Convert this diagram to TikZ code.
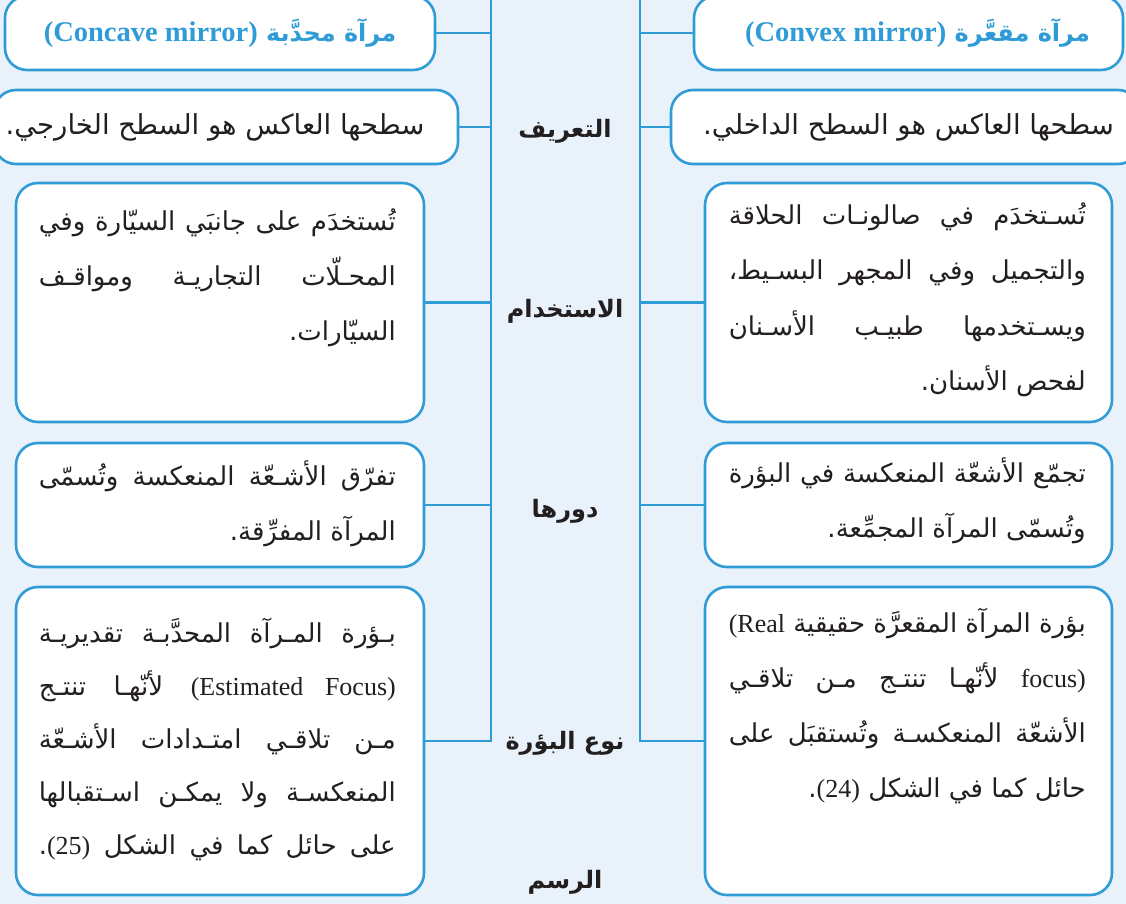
\documentclass[tikz,border=0pt]{standalone}
\usepackage{fontspec}
\usepackage{graphicx}
\setmainfont{Liberation Serif}
\newfontfamily\arabicfont[Script=Arabic]{DejaVu Sans}
\TeXXeTstate=1
\definecolor{bg}{HTML}{E9F2FA}
\definecolor{lineblue}{HTML}{2F9BD7}
\definecolor{txt}{HTML}{231F20}
\newlength\lw \setlength\lw{357pt}
\newsavebox\lbox
\newcommand\jl[1]{\sbox\lbox{\beginR #1\endR}%
  \ifdim\wd\lbox>\lw \hbox to \lw{\resizebox{\lw}{\height}{\usebox\lbox}}%
  \else \hbox to \lw{\beginR #1\endR}\fi}
\newcommand\rl[1]{\sbox\lbox{\beginR #1\endR}%
  \ifdim\wd\lbox>\lw \hbox to \lw{\resizebox{\lw}{\height}{\usebox\lbox}}%
  \else \hbox to \lw{\hfil\usebox\lbox}\fi}
\newcommand\para[2]{\vtop{\baselineskip=#1pt\lineskiplimit=-100pt\lineskip=0pt #2}}
\newcommand\lat[1]{\beginL{\rmfamily #1}\endL}
\tikzset{
  box/.style={draw=lineblue, line width=2.6pt, fill=white, rounded corners=22pt, inner sep=0pt},
  conn/.style={draw=lineblue, line width=2.6pt},
  body/.style={text=txt, font=\arabicfont\fontsize{26}{30}\selectfont, inner sep=0pt},
  deftext/.style={text=txt, font=\arabicfont\fontsize{27.5}{32}\selectfont},
  lab/.style={text=txt, font=\arabicfont\bfseries\fontsize{24}{28}\selectfont, inner sep=0pt},
  ttl/.style={text=lineblue, font=\arabicfont\bfseries\fontsize{24}{28}\selectfont}
}
\begin{document}
\begin{tikzpicture}[x=1pt,y=-1pt]
\useasboundingbox (0,0) rectangle (1126,904);
\fill[bg] (0,0) rectangle (1126,904);
\coordinate (lt) at (491,-5);
\coordinate (rt) at (640,-5);
% boxes
\node[box, ttl, minimum width=430pt, minimum height=74pt] (ltitle) at (220,33)
  {\beginR مرآة محدَّبة \lat{\fontsize{28.5}{32}\selectfont(Concave mirror)}\endR};
\node[box, ttl, minimum width=429pt, minimum height=74pt] (rtitle) at (908.5,33)
  {\beginR مرآة مقعَّرة \lat{\fontsize{28.5}{32}\selectfont(Convex mirror)}\endR\hspace*{-18pt}};
\node[box, deftext, minimum width=464pt, minimum height=74pt] (ldef) at (226,127)
  {\beginR سطحها العاكس هو السطح الخارجي.\endR\hspace*{22pt}};
\node[box, deftext, minimum width=469pt, minimum height=74pt] (rdef) at (905.5,127)
  {\beginR سطحها العاكس هو السطح الداخلي.\endR\hspace*{-6pt}};
\node[box, minimum width=408pt, minimum height=239pt] (luse) at (220,302.5) {};
\node[box, minimum width=407pt, minimum height=239pt] (ruse) at (908.5,302.5) {};
\node[box, minimum width=408pt, minimum height=124pt] (lrole) at (220,505) {};
\node[box, minimum width=407pt, minimum height=124pt] (rrole) at (908.5,505) {};
\node[box, minimum width=408pt, minimum height=308pt] (lfocus) at (220,741) {};
\node[box, minimum width=407pt, minimum height=308pt] (rfocus) at (908.5,741) {};
% connectors
\draw[conn] (lt) -- (lt |- lfocus.east) -- (lfocus.east);
\draw[conn] (rt) -- (rt |- rfocus.west) -- (rfocus.west);
\draw[conn] (ltitle.east) -- (ltitle.east -| lt);
\draw[conn] (ldef.east) -- (ldef.east -| lt);
\draw[conn] (luse.east) -- (luse.east -| lt);
\draw[conn] (lrole.east) -- (lrole.east -| lt);
\draw[conn] (rtitle.west) -- (rtitle.west -| rt);
\draw[conn] (rdef.west) -- (rdef.west -| rt);
\draw[conn] (ruse.west) -- (ruse.west -| rt);
\draw[conn] (rrole.west) -- (rrole.west -| rt);
% box texts
\node[body, anchor=base east] (lusetext) at (396,230) {\para{55}{%
  \jl{تُستخدَم على جانبَي السيّارة وفي}
  \jl{المحـلّات التجاريـة ومواقـف}
  \rl{السيّارات.}}};
\node[body, anchor=base east] (rusetext) at (1086,224) {\para{55.5}{%
  \jl{تُسـتخدَم في صالونـات الحلاقة}
  \jl{والتجميل وفي المجهر البسـيط،}
  \jl{ويسـتخدمها طبيـب الأسـنان}
  \rl{لفحص الأسنان.}}};
\node[body, anchor=base east] (lroletext) at (396,485) {\para{55}{%
  \jl{تفرّق الأشـعّة المنعكسة وتُسمّى}
  \rl{المرآة المفرِّقة.}}};
\node[body, anchor=base east] (rroletext) at (1086,482) {\para{55}{%
  \jl{تجمّع الأشعّة المنعكسة في البؤرة}
  \rl{وتُسمّى المرآة المجمِّعة.}}};
\node[body, anchor=base east] (lfocustext) at (396,642) {\para{53}{%
  \jl{بـؤرة المـرآة المحدَّبـة تقديريـة}
  \jl{\lat{(Estimated Focus)} لأنّهـا تنتـج}
  \jl{مـن تلاقـي امتـدادات الأشـعّة}
  \jl{المنعكسـة ولا يمكـن اسـتقبالها}
  \jl{على حائل كما في الشكل \lat{(25)}.}}};
\node[body, anchor=base east] (rfocustext) at (1086,632) {\para{55}{%
  \jl{بؤرة المرآة المقعرَّة حقيقية \lat{(Real}}
  \jl{\lat{focus)} لأنّهـا تنتـج مـن تلاقـي}
  \jl{الأشعّة المنعكسـة وتُستقبَل على}
  \rl{حائل كما في الشكل \lat{(24)}.}}};
% middle labels
\node[lab] (l1) at (565,131) {\beginR التعريف\endR};
\node[lab] (l2) at (565,311) {\beginR الاستخدام\endR};
\node[lab] (l3) at (565,511) {\beginR دورها\endR};
\node[lab] (l4) at (565,743) {\beginR نوع البؤرة\endR};
\node[lab] (l5) at (565,882) {\beginR الرسم\endR};
\end{tikzpicture}
\end{document}
